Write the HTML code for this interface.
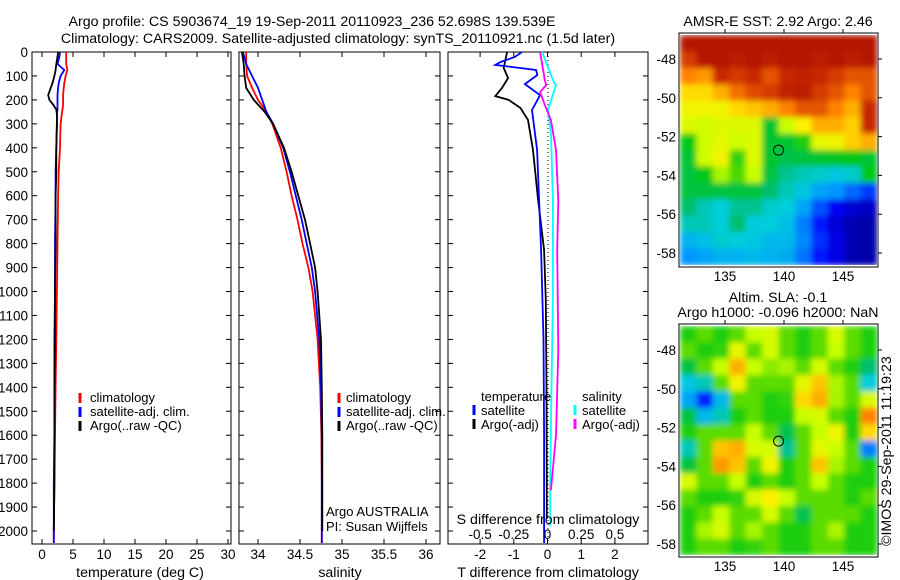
<!DOCTYPE html>
<html><head><meta charset="utf-8">
<style>
body{margin:0;background:#fff;}
svg{display:block;font-family:"Liberation Sans",sans-serif;font-size:13px;}
.big{font-size:14.2px;}
.tk{font-size:13.5px;}
</style></head>
<body>
<svg id="c" width="900" height="580">
<defs>
<filter id="bl" x="0" y="0" width="1" height="1"><feGaussianBlur stdDeviation="3" edgeMode="duplicate"/></filter>
<clipPath id="cp1"><rect x="680" y="35" width="197" height="230"/></clipPath>
<clipPath id="cp2"><rect x="680" y="326" width="197" height="229"/></clipPath>
</defs>
<text class="big" x="312" y="26" text-anchor="middle">Argo profile: CS 5903674_19 19-Sep-2011 20110923_236 52.698S 139.539E</text>
<text class="big" x="338" y="43" text-anchor="middle">Climatology: CARS2009. Satellite-adjusted climatology: synTS_20110921.nc (1.5d later)</text>
<text class="big" x="778" y="26" text-anchor="middle">AMSR-E SST: 2.92 Argo: 2.46</text>
<text class="big" x="778" y="302" text-anchor="middle">Altim. SLA: -0.1</text>
<text class="big" x="778" y="317" text-anchor="middle">Argo h1000: -0.096 h2000: NaN</text>
<text class="big" transform="translate(891,546) rotate(-90)">©IMOS 29-Sep-2011 11:19:23</text>
<text x="326" y="516">Argo AUSTRALIA</text>
<text x="326" y="531">PI: Susan Wijffels</text>
</svg>
<script>
// ---------- data ----------
const tDepth=[0,20,50,75,100,130,150,180,200,220,240,260,300,400,500,600,800,1000,1200,1400,1600,1800,2000,2050];
const tClim=[3.9,3.9,3.9,4.1,3.8,3.6,3.5,3.4,3.4,3.4,3.3,3.2,3.0,2.9,2.7,2.6,2.5,2.4,2.3,2.2,2.1,2.0,1.9,1.9];
const tSat=[2.9,2.8,2.5,3.6,3.0,2.7,2.6,2.5,2.5,2.5,2.5,2.4,2.4,2.3,2.2,2.2,2.1,2.1,2.0,2.0,2.0,1.9,1.9,1.9];
const tArgo=[2.6,2.5,2.3,2.2,2.0,1.7,1.4,1.0,1.2,1.8,2.3,2.4,2.4,2.3,2.3,2.2,2.2,2.1,2.1,2.0,2.0,2.0,1.9];
const sDepth=[0,50,100,150,200,250,300,400,500,600,700,800,900,1000,1200,1400,1600,1800,2000,2050];
const sClim=[33.86,33.86,33.87,33.93,34.0,34.1,34.17,34.27,34.34,34.4,34.47,34.53,34.6,34.65,34.71,34.74,34.755,34.76,34.76,34.76];
const sSat=[33.82,33.86,33.93,34.0,34.05,34.1,34.18,34.3,34.38,34.45,34.52,34.58,34.64,34.68,34.73,34.75,34.76,34.76,34.76,34.76];
const sArgo=[33.81,33.83,33.84,33.86,33.95,34.08,34.18,34.31,34.4,34.48,34.56,34.62,34.68,34.71,34.75,34.76,34.765,34.765,34.765];
const dtArgoDepth=[0,67,109,150,184,200,234,284,409,618,827,1035,1400,1800,1950];
const dtArgo=[-1.2,-1.3,-1.17,-1.35,-1.55,-1.15,-0.8,-0.58,-0.43,-0.28,-0.1,-0.05,-0.03,-0.02,-0.02];
const dtSatDepth=[0,21,42,54,75,96,134,180,242,409,618,827,1200,1600,2000,2050];
const dtSat=[-0.76,-0.97,-1.4,-1.55,-0.34,-0.3,-0.67,-0.22,-0.46,-0.31,-0.25,-0.19,-0.12,-0.1,-0.1,-0.1];
const dsSatDepth=[0,117,138,242,346,618,1035,1400,1800,1980];
const dsSat=[-0.04,0.04,0.063,0.004,0.026,0.04,0.04,0.03,0.02,0.02];
const dsArgoDepth=[0,117,138,167,221,284,409,618,827,1244,1600,1830];
const dsArgo=[-0.055,-0.02,-0.01,-0.055,-0.02,0.025,0.063,0.08,0.072,0.08,0.063,0.025];
const depthTicks=[0,100,200,300,400,500,600,700,800,900,1000,1100,1200,1300,1400,1500,1600,1700,1800,1900,2000];
const tTicks=[0,5,10,15,20,25,30];
const sTicks=[34,34.5,35,35.5,36];
const sTickLabels=["34","34.5","35","35.5","36"];
const dtTicks=[-2,-1,0,1,2];
const dsTicks=[-0.5,-0.25,0,0.25,0.5];
const dsTickLabels=["-0.5","-0.25","0","0.25","0.5"];
const latTicks=[-48,-50,-52,-54,-56,-58];
const lonTicks=[135,140,145];
const sstGrid=[
[.95,.95,.95,.95,.95,.95,.95,.95,.95,.95,.95,.95],
[.88,.95,.95,.93,.95,.93,.95,.95,.93,.95,.93,.95],
[.8,.78,.9,.88,.9,.85,.9,.92,.9,.88,.85,.85],
[.72,.72,.76,.82,.86,.88,.92,.93,.88,.85,.8,.85],
[.68,.68,.68,.72,.74,.76,.8,.85,.85,.8,.76,.9],
[.65,.63,.65,.65,.65,.46,.62,.7,.76,.76,.73,.9],
[.48,.63,.66,.63,.65,.46,.46,.5,.66,.68,.73,.76],
[.46,.63,.68,.52,.65,.46,.44,.45,.46,.47,.48,.46],
[.45,.48,.6,.54,.62,.45,.4,.38,.37,.35,.37,.48],
[.45,.45,.45,.45,.45,.42,.38,.35,.3,.28,.24,.2],
[.42,.38,.36,.4,.4,.37,.36,.3,.22,.14,.1,.08],
[.38,.38,.36,.42,.36,.36,.34,.26,.17,.1,.06,.05],
[.32,.34,.37,.36,.35,.33,.33,.27,.19,.12,.06,.05],
[.28,.3,.32,.32,.33,.32,.31,.25,.17,.12,.06,.05]];
const slaGrid=[
[.5,.55,.5,.55,.62,.64,.55,.5,.55,.64,.55,.5],
[.55,.5,.52,.66,.55,.64,.55,.5,.55,.62,.55,.5],
[.45,.55,.62,.76,.62,.58,.6,.55,.64,.55,.5,.42],
[.35,.38,.55,.68,.55,.55,.55,.66,.74,.6,.55,.36],
[.3,.18,.33,.55,.55,.5,.52,.72,.76,.6,.55,.64],
[.45,.33,.38,.5,.55,.5,.5,.62,.64,.55,.5,.8],
[.5,.55,.55,.55,.62,.55,.44,.55,.62,.68,.5,.72],
[.38,.55,.74,.76,.64,.64,.4,.55,.66,.62,.55,.26],
[.45,.55,.78,.74,.55,.68,.5,.55,.74,.6,.55,.5],
[.64,.55,.55,.62,.5,.55,.5,.55,.62,.55,.5,.5],
[.55,.5,.5,.52,.64,.7,.62,.55,.55,.55,.5,.55],
[.5,.55,.62,.55,.55,.64,.55,.44,.55,.55,.55,.5],
[.5,.6,.64,.55,.6,.55,.5,.5,.55,.6,.5,.5],
[.5,.55,.55,.5,.52,.55,.5,.5,.55,.55,.5,.5]];
const argoLon=139.539, argoLat=-52.698;
// ---------- helpers ----------
const svg=document.getElementById('c');
const NS='http://www.w3.org/2000/svg';
function mk(tag,at,parent){const e=document.createElementNS(NS,tag);for(const k in at)e.setAttribute(k,at[k]);(parent||svg).appendChild(e);return e;}
const yD=d=>52+d*0.2395;
const xT=v=>42+v*6.2;
const xS=v=>258+(v-34)*84;
const xDT=v=>547.5+v*33.7;
const xDS=v=>547.5+v*134.8;
function line(xs,ys,fx,color,name,w){
  const pts=xs.map((v,i)=>fx(v).toFixed(1)+','+yD(ys[i]).toFixed(1)).join(' ');
  const p=mk('polyline',{points:pts,fill:'none',stroke:color,'stroke-width':w||1.8});
  
  
}
function panel(x0,x1,name){
  const r=mk('rect',{x:x0,y:52,width:x1-x0,height:492,fill:'none',stroke:'#000','stroke-width':1});
  
  
  depthTicks.forEach(d=>{mk('line',{x1:x0,x2:x0+5,y1:yD(d),y2:yD(d),stroke:'#000'});mk('line',{x1:x1,x2:x1-5,y1:yD(d),y2:yD(d),stroke:'#000'});});
}
function xticks(vals,labels,fx,name,y){
  vals.forEach((v,i)=>{const x=fx(v);
    mk('line',{x1:x,x2:x,y1:544,y2:539,stroke:'#000'});mk('line',{x1:x,x2:x,y1:52,y2:57,stroke:'#000'});
    const t=mk('text',{x:x,y:y||559,'text-anchor':'middle','class':'tk'});t.textContent=labels[i];
    
    });
}
function label(x,y,txt,name,anchor,cls){const t=mk('text',{x:x,y:y,'text-anchor':anchor||'start'});t.textContent=txt;
  if(cls)t.setAttribute('class',cls);
  
  return t;}
function legTick(x,y,color,name){const l=mk('line',{x1:x,x2:x,y1:y-10,y2:y,stroke:color,'stroke-width':3});
  
  }
// ---------- panel 1 temperature ----------
panel(32,231,'temperature-panel');
depthTicks.forEach(d=>{const t=mk('text',{x:28,y:yD(d)+5,'text-anchor':'end','class':'tk'});t.textContent=d;
  
  });
xticks(tTicks,tTicks.map(String),xT,'temperature-tick-label');
label(140,577,'temperature (deg C)','temperature-axis-title','middle','big');
line(tClim,tDepth,xT,'#f00','temperature-climatology-line');
line(tSat,tDepth,xT,'#00f','temperature-satellite-line');
line(tArgo,tDepth.slice(0,tArgo.length),xT,'#000','temperature-argo-line');
legTick(80,403,'#f00','legend-climatology-marker');label(90,402,'climatology','legend-climatology');
legTick(80,417,'#00f','legend-satellite-marker');label(90,416,'satellite-adj. clim.','legend-satellite');
legTick(80,431,'#000','legend-argo-marker');label(90,430,'Argo(..raw -QC)','legend-argo');
// ---------- panel 2 salinity ----------
panel(239,440,'salinity-panel');
xticks(sTicks,sTickLabels,xS,'salinity-tick-label');
label(340,577,'salinity','salinity-axis-title','middle','big');
line(sClim,sDepth,xS,'#f00','salinity-climatology-line');
line(sSat,sDepth,xS,'#00f','salinity-satellite-line');
line(sArgo,sDepth.slice(0,sArgo.length),xS,'#000','salinity-argo-line');
legTick(339,403,'#f00','legend2-climatology-marker');label(346,402,'climatology','legend2-climatology');
legTick(339,417,'#00f','legend2-satellite-marker');label(346,416,'satellite-adj. clim.','legend2-satellite');
legTick(339,431,'#000','legend2-argo-marker');label(346,430,'Argo(..raw -QC)','legend2-argo');
// ---------- panel 3 differences ----------
panel(448,648,'difference-panel');
mk('line',{x1:548,x2:548,y1:52,y2:544,stroke:'#000','stroke-dasharray':'1,3'});
line(dtArgo,dtArgoDepth,xDT,'#000','temp-diff-argo-line');
line(dtSat,dtSatDepth,xDT,'#00f','temp-diff-satellite-line');
line(dsSat,dsSatDepth,xDS,'#0ff','sal-diff-satellite-line');
line(dsArgo,dsArgoDepth,xDS,'#f0f','sal-diff-argo-line');
xticks(dtTicks,dtTicks.map(String),xDT,'temp-diff-tick-label');
dsTicks.forEach((v,i)=>{const t=mk('text',{x:xDS(v),y:539,'text-anchor':'middle','class':'tk'});t.textContent=dsTickLabels[i];
  
  });
label(548,524,'S difference from climatology','sal-diff-axis-title','middle','big');
label(548,577,'T difference from climatology','temp-diff-axis-title','middle','big');
label(481,401,'temperature','legend3-temperature-header');
legTick(474,415,'#00f','legend3-temp-sat-marker');label(481,415,'satellite','legend3-temp-sat');
legTick(474,429,'#000','legend3-temp-argo-marker');label(481,429,'Argo(-adj)','legend3-temp-argo');
label(582,401,'salinity','legend3-salinity-header');
legTick(575,415,'#0ff','legend3-sal-sat-marker');label(582,415,'satellite','legend3-sal-sat');
legTick(575,429,'#f0f','legend3-sal-argo-marker');label(582,429,'Argo(-adj)','legend3-sal-argo');
// ---------- maps ----------
const stops=[[0,[0,0,128]],[.15,[0,0,255]],[.28,[0,150,255]],[.36,[0,205,220]],[.42,[0,190,110]],[.48,[0,200,20]],[.55,[90,220,0]],[.62,[200,255,0]],[.7,[255,240,0]],[.8,[255,130,0]],[.9,[200,40,0]],[1,[160,0,0]]];
function cmap(v){for(let i=1;i<stops.length;i++){if(v<=stops[i][0]){const a=stops[i-1],b=stops[i];const f=(v-a[0])/(b[0]-a[0]);
  return 'rgb('+a[1].map((c,k)=>Math.round(c+(b[1][k]-c)*f)).join(',')+')';}}return 'rgb(160,0,0)';}
function map(grid,y0,y1,latY0,name,clip){
  const x0=680,x1=877;
  const outer=mk('g',{'clip-path':'url(#'+clip+')'});
  const g=mk('g',{filter:'url(#bl)'},outer);
  
  
  const rows=grid.length,cols=grid[0].length,cw=(x1-x0)/cols,ch=(y1-y0)/rows;
  grid.forEach((row,r)=>row.forEach((v,c)=>{const cell=mk('rect',{x:x0+c*cw,y:y0+r*ch,width:cw+0.6,height:ch+0.6,fill:cmap(v)},g);
    
    }));
  const lonX=l=>725+(l-135)*11.8, latY=l=>latY0+(-48-l)*19.4;
  mk('rect',{x:x0-1,y:y0-2,width:x1-x0+2,height:y1-y0+4,fill:'none',stroke:'#000'});
  lonTicks.forEach(l=>{mk('line',{x1:lonX(l),x2:lonX(l),y1:y0-2,y2:y0-6,stroke:'#000'});
    const t=mk('text',{x:lonX(l),y:y1+16,'text-anchor':'middle','class':'tk'});t.textContent=l;
    
    });
  latTicks.forEach(l=>{mk('line',{x1:x1+1,x2:x1+5,y1:latY(l),y2:latY(l),stroke:'#000'});
    const t=mk('text',{x:676,y:latY(l)+5,'text-anchor':'end','class':'tk'});t.textContent=l;
    
    });
  const m=mk('circle',{cx:lonX(argoLon),cy:latY(argoLat),r:5,fill:'none',stroke:'#000'});
  
  
}
map(sstGrid,35,265,59,'sst-map','cp1');
map(slaGrid,326,555,350,'sla-map','cp2');
</script>
</body></html>
